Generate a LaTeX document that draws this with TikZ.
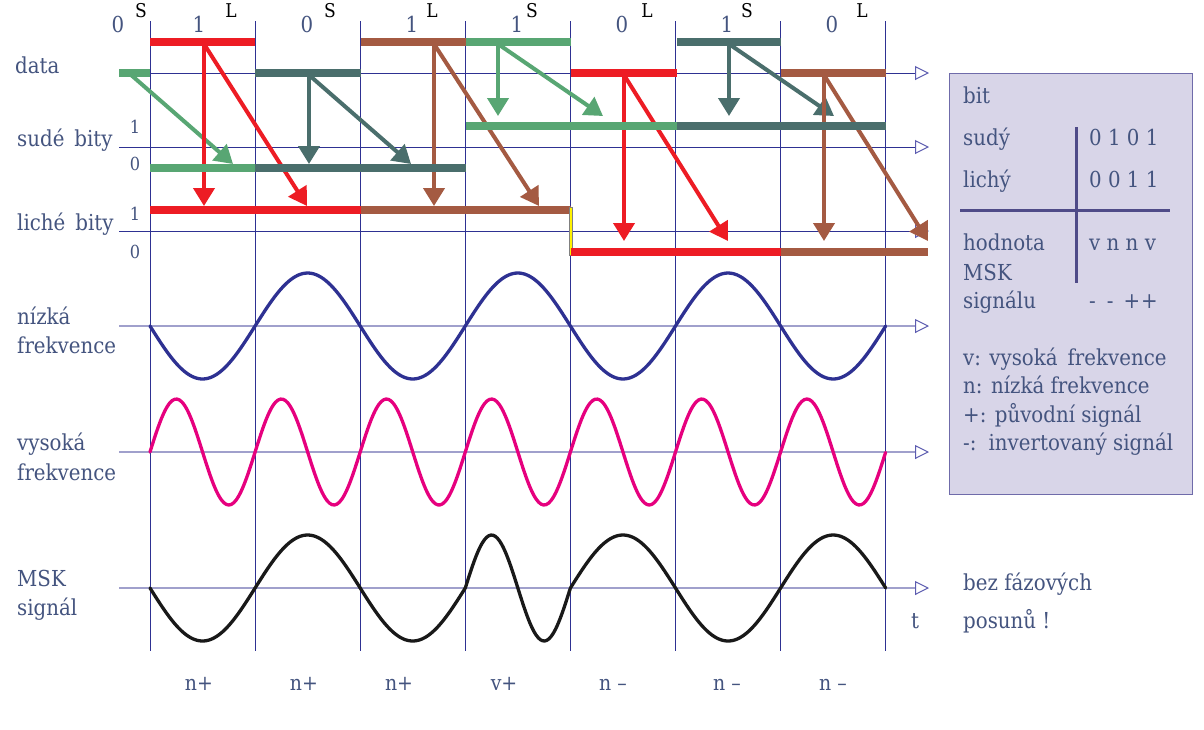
\documentclass[tikz,border=0pt]{standalone}
\usepackage{fontspec}
\setmainfont{DejaVu Serif}[FakeStretch=0.9]
\usetikzlibrary{arrows.meta}
\definecolor{cred}{HTML}{ED1C24}
\definecolor{cgreen}{HTML}{58A673}
\definecolor{cteal}{HTML}{4A6E6C}
\definecolor{cbrown}{HTML}{A45A42}
\definecolor{gridblue}{HTML}{2E3192}
\definecolor{axlav}{HTML}{A0A0CC}
\definecolor{tipcol}{HTML}{5C5CB0}
\definecolor{lowc}{HTML}{2E3192}
\definecolor{highc}{HTML}{E6007E}
\definecolor{txt}{HTML}{44547F}
\definecolor{boxfill}{HTML}{D8D5E8}
\definecolor{boxedge}{HTML}{6F6BAA}
\definecolor{boxline}{HTML}{4F4B88}
\begin{document}
\begin{tikzpicture}[x=1pt,y=-1pt,
 gridline/.style={draw=gridblue,line width=0.9pt},
 dataaxis/.style={draw=gridblue,line width=0.9pt,-{Triangle[open,length=14pt,width=14pt,line width=1pt,color=tipcol]}},
 waveaxis/.style={draw=axlav,line width=1.6pt,-{Triangle[open,length=14pt,width=14pt,line width=1pt,color=tipcol]}},
 bar/.style={line width=7.5pt},
 arr/.style={line width=4pt,-{Triangle[length=18pt,width=21pt]}},
 lbl/.style={text=txt,font=\fontsize{22}{26}\selectfont,inner sep=0pt,anchor=base west},
 digit/.style={text=txt,font=\fontsize{22}{26}\selectfont,inner sep=0pt,anchor=base},
 sldig/.style={text=txt,font=\fontsize{18}{20}\selectfont,inner sep=0pt,anchor=base},
 sl/.style={text=black,font=\fontsize{19}{21}\selectfont,inner sep=0pt,anchor=base},
 bot/.style={text=txt,font=\fontsize{21}{24}\selectfont,inner sep=0pt,anchor=base},
 wave/.style={line width=3.3pt,line cap=round,line join=round},
 boxrule/.style={draw=boxline,line width=3pt}
]
\useasboundingbox (0,0) rectangle (1204,729);
\fill[white] (0,0) rectangle (1204,729);

% vertical grid
\foreach \k in {0,...,7}{
  \draw[gridline] ({150+105.1*\k},21) -- ({150+105.1*\k},651);
}

% axes
\coordinate (da0) at (119,73);   \coordinate (da1) at (929,73);
\coordinate (sa0) at (119,147);  \coordinate (sa1) at (929,147);
\coordinate (la0) at (119,231);  \coordinate (la1) at (929,231);
\coordinate (na0) at (119,326);  \coordinate (na1) at (929,326);
\coordinate (va0) at (119,452);  \coordinate (va1) at (929,452);
\coordinate (ma0) at (119,588);  \coordinate (ma1) at (929,588);
\draw[dataaxis] (da0) -- (da1);
\draw[dataaxis] (sa0) -- (sa1);
\draw[dataaxis] (la0) -- (la1);
\draw[waveaxis] (na0) -- (na1);
\draw[waveaxis] (va0) -- (va1);
\draw[waveaxis] (ma0) -- (ma1);

% arrows
\coordinate (g1s) at (130,74);  \coordinate (g1e) at (233,164);
\coordinate (r1s) at (204,44);  \coordinate (r1v) at (204,206); \coordinate (r1d) at (307,206);
\coordinate (t1s) at (309,75);  \coordinate (t1v) at (309,164); \coordinate (t1d) at (411,164);
\coordinate (b1s) at (434,44);  \coordinate (b1v) at (434,206); \coordinate (b1d) at (539,206);
\coordinate (g2s) at (498,44);  \coordinate (g2v) at (498,116); \coordinate (g2d) at (603,116);
\coordinate (r2s) at (624,75);  \coordinate (r2v) at (624,241); \coordinate (r2d) at (728,241);
\coordinate (t2s) at (729,44);  \coordinate (t2v) at (729,116); \coordinate (t2d) at (834,116);
\coordinate (b2s) at (824,75);  \coordinate (b2v) at (824,241); \coordinate (b2d) at (928,241);
\draw[arr,cgreen] (g1s) -- (g1e);
\draw[arr,cred] (r1s) -- (r1v);  \draw[arr,cred] (r1s) -- (r1d);
\draw[arr,cteal] (t1s) -- (t1v); \draw[arr,cteal] (t1s) -- (t1d);
\draw[arr,cbrown] (b1s) -- (b1v); \draw[arr,cbrown] (b1s) -- (b1d);
\draw[arr,cgreen] (g2s) -- (g2v); \draw[arr,cgreen] (g2s) -- (g2d);
\draw[arr,cred] (r2s) -- (r2v);  \draw[arr,cred] (r2s) -- (r2d);
\draw[arr,cteal] (t2s) -- (t2v); \draw[arr,cteal] (t2s) -- (t2d);
\draw[arr,cbrown] (b2s) -- (b2v); \draw[arr,cbrown] (b2s) -- (b2d);

% data bars
\draw[bar,cgreen] (119,73) -- (150,73);
\draw[bar,cred] (150,42) -- (255,42);
\draw[bar,cteal] (255,73) -- (361,73);
\draw[bar,cbrown] (361,42) -- (466,42);
\draw[bar,cgreen] (466,42) -- (571,42);
\draw[bar,cred] (571,73) -- (677,73);
\draw[bar,cteal] (677,42) -- (781,42);
\draw[bar,cbrown] (781,73) -- (886,73);
% even bits
\draw[bar,cgreen] (150,168) -- (255,168);
\draw[bar,cteal] (255,168) -- (466,168);
\draw[bar,cgreen] (466,126) -- (677,126);
\draw[bar,cteal] (677,126) -- (886,126);
% odd bits
\draw[bar,cred] (150,210) -- (361,210);
\draw[bar,cbrown] (361,210) -- (571,210);
\draw[draw=gray,fill=yellow,line width=0.6pt] (569.3,207) rectangle (572.7,255);
\draw[bar,cred] (571,252) -- (781,252);
\draw[bar,cbrown] (781,252) -- (928,252);

% waves
\draw[wave,lowc] plot[domain=0:7,samples=160,smooth] ({150+105.1*\x},{326+53*sin(180*\x)});
\draw[wave,highc] plot[domain=0:7,samples=300,smooth] ({150+105.1*\x},{452-53*sin(360*\x)});
\foreach \i/\s/\f in {0/1/1,1/-1/1,2/1/1,3/-1/2,4/-1/1,5/1/1,6/-1/1}{
  \draw[wave,black!90] plot[domain=0:1,samples=50,smooth] ({150+105.1*(\i+\x)},{588+\s*53*sin(180*\f*\x)});
}

% top labels
\node[digit] (d0) at (118,32) {0};
\node[digit] (d1) at (199,32) {1};
\node[digit] (d2) at (307,32) {0};
\node[digit] (d3) at (412,32) {1};
\node[digit] (d4) at (517,32) {1};
\node[digit] (d5) at (622,32) {0};
\node[digit] (d6) at (727,32) {1};
\node[digit] (d7) at (832,32) {0};
\node[sl] (s0) at (141,17) {S};
\node[sl] (l0) at (231,17) {L};
\node[sl] (s1) at (330,17) {S};
\node[sl] (l1) at (432,17) {L};
\node[sl] (s2) at (532,17) {S};
\node[sl] (l2) at (647,17) {L};
\node[sl] (s3) at (747,17) {S};
\node[sl] (l3) at (862,17) {L};

% level digits
\node[sldig] (su1) at (135,133) {1};
\node[sldig] (su0) at (135,170) {0};
\node[sldig] (li1) at (135,220) {1};
\node[sldig] (li0) at (135,258) {0};

% row labels
\node[lbl] (ldata) at (15,73) {data};
\node[lbl] (lsude) at (17,146) {sudé\, bity};
\node[lbl] (llich) at (17,230) {liché\, bity};
\node[lbl] (ln1) at (17,324) {nízká};
\node[lbl] (ln2) at (17,353) {frekvence};
\node[lbl] (lv1) at (17,450) {vysoká};
\node[lbl] (lv2) at (17,480) {frekvence};
\node[lbl] (lm1) at (17,586) {MSK};
\node[lbl] (lm2) at (17,615) {signál};

% bottom labels
\node[bot] (b1) at (199,690) {n+};
\node[bot] (b2) at (304,690) {n+};
\node[bot] (b3) at (399,690) {n+};
\node[bot] (b4) at (504,690) {v+};
\node[bot] (b5) at (613,690) {n –};
\node[bot] (b6) at (727,690) {n –};
\node[bot] (b7) at (833,690) {n –};

\node[lbl] (tt) at (911,628) {t};
\node[lbl] (bez) at (963,590) {bez fázových};
\node[lbl] (pos) at (963,628) {posunů !};

% legend box
\draw[draw=boxedge,fill=boxfill,line width=1pt] (949,73) rectangle (1192,494);
\draw[boxrule] (1076,127) -- (1076,283);
\draw[boxrule] (960,210) -- (1170,210);
\node[lbl] (kbit) at (963,103) {bit};
\node[lbl] (ksud) at (963,145) {sudý};
\node[lbl] (klic) at (963,187) {lichý};
\node[lbl] (kv1) at (1089,145) {0 1 0 1};
\node[lbl] (kv2) at (1089,187) {0 0 1 1};
\node[lbl] (khod) at (963,250) {hodnota};
\node[lbl] (kmsk) at (963,280) {MSK};
\node[lbl] (ksig) at (963,308) {signálu};
\node[lbl] (kv3) at (1089,250) {v n n v};
\node[lbl] (kv4) at (1089,308) {-\hspace{11pt}-\hspace{10pt}+\hspace{1pt}+};
\node[lbl] (kl1) at (963,365) {v: vysoká\, frekvence};
\node[lbl] (kl2) at (963,393) {n: nízká frekvence};
\node[lbl] (kl3) at (963,422) {+: původní signál};
\node[lbl] (kl4) at (963,450) {-:\, invertovaný signál};
\end{tikzpicture}
\end{document}
